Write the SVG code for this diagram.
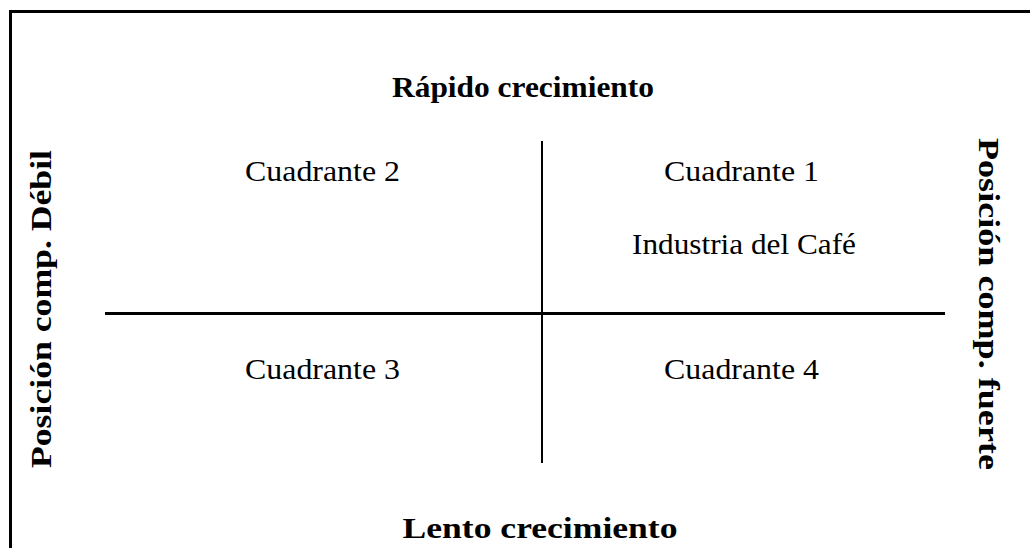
<svg xmlns="http://www.w3.org/2000/svg" width="1030" height="548" viewBox="0 0 1030 548">
<style>
.t{font-family:'Liberation Serif','Times New Roman',Tinos,serif;font-size:29px;fill:#000;text-anchor:middle}
.b{font-weight:bold;font-size:30px}
.ln{stroke:#000;fill:none}
</style>
<rect width="1030" height="548" fill="#fff"/>
<g id="frame"><path class="ln" stroke-width="3" d="M10.5 548 V11.5 H1030"/></g>
<g id="connectors">
<line class="ln" stroke-width="3" x1="105" y1="313.5" x2="945" y2="313.5"/>
<line class="ln" stroke-width="2" x1="542" y1="141" x2="542" y2="463"/>
</g>
<g id="top"><text class="t b" x="523" y="97" textLength="262" lengthAdjust="spacingAndGlyphs">Rápido crecimiento</text></g>
<g id="bottom"><text class="t b" x="540" y="538" textLength="275" lengthAdjust="spacingAndGlyphs">Lento crecimiento</text></g>
<g id="q2"><text class="t" x="322.5" y="181" textLength="155" lengthAdjust="spacingAndGlyphs">Cuadrante 2</text></g>
<g id="q1"><text class="t" x="741.5" y="181" textLength="155" lengthAdjust="spacingAndGlyphs">Cuadrante 1</text></g>
<g id="cafe"><text class="t" x="744" y="254" textLength="224" lengthAdjust="spacingAndGlyphs">Industria del Café</text></g>
<g id="q3"><text class="t" x="322.5" y="379" textLength="155" lengthAdjust="spacingAndGlyphs">Cuadrante 3</text></g>
<g id="q4"><text class="t" x="741.5" y="379" textLength="155" lengthAdjust="spacingAndGlyphs">Cuadrante 4</text></g>
<g id="left"><text class="t b" transform="translate(51 309) rotate(-90)" textLength="318" lengthAdjust="spacingAndGlyphs">Posición comp. Débil</text></g>
<g id="right"><text class="t b" transform="translate(979 304) rotate(90)" textLength="332" lengthAdjust="spacingAndGlyphs">Posición comp. fuerte</text></g>
</svg>
